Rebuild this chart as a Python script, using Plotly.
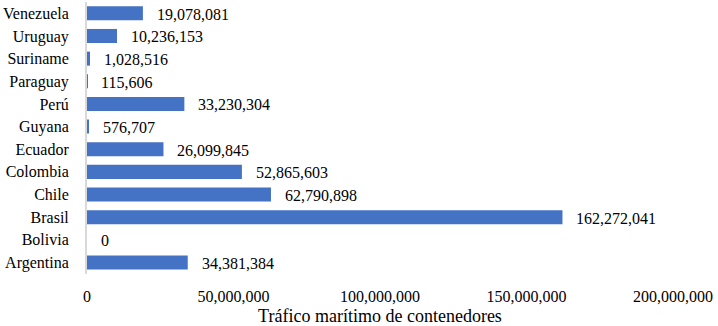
import plotly.graph_objects as go

countries = ["Argentina", "Bolivia", "Brasil", "Chile", "Colombia", "Ecuador",
             "Guyana", "Perú", "Paraguay", "Suriname", "Uruguay", "Venezuela"]
traffic = [34381384, 0, 162272041, 62790898, 52865603, 26099845,
           576707, 33230304, 115606, 1028516, 10236153, 19078081]
x_ticks = [0, 50000000, 100000000, 150000000, 200000000]
x_tick_labels = ["0", "50,000,000", "100,000,000", "150,000,000", "200,000,000"]

font_family = "Times New Roman"

fig = go.Figure()
fig.add_trace(go.Bar(
    x=traffic, y=countries, orientation="h",
    marker=dict(color="#4472C4", line=dict(width=0)),
    hoverinfo="skip",
))

annotations = []
for c, v in zip(countries, traffic):
    annotations.append(dict(
        x=v, y=c, xref="x", yref="y", text=f"{v:,}",
        showarrow=False, xanchor="left", yanchor="middle",
        xshift=12, yshift=-1,
        font=dict(family=font_family, size=16, color="#000000"),
    ))

fig.update_layout(
    width=718, height=326,
    margin=dict(l=87, r=45, t=2, b=52, autoexpand=False),
    paper_bgcolor="white", plot_bgcolor="white",
    bargap=0.38,
    showlegend=False,
    font=dict(family=font_family, size=16, color="#000000"),
    annotations=annotations,
    xaxis=dict(
        range=[0, 200000000], automargin=False,
        tickvals=x_ticks, ticktext=x_tick_labels,
        showgrid=False, zeroline=False, showline=False,
        ticks="outside", ticklen=8, tickcolor="rgba(0,0,0,0)",
        tickfont=dict(family=font_family, size=16, color="#000000"),
        title=dict(text="Tráfico marítimo de contenedores",
                   font=dict(family=font_family, size=18, color="#000000"),
                   standoff=6),
    ),
    yaxis=dict(
        automargin=False,
        showgrid=False, zeroline=False,
        showline=True, linecolor="#D9D9D9", linewidth=2,
        ticks="outside", ticklen=13, tickcolor="rgba(0,0,0,0)",
        tickfont=dict(family=font_family, size=16, color="#000000"),
    ),
)

fig.write_html("out.html", config={"displayModeBar": False},
               post_script="document.body.style.margin='0';")
